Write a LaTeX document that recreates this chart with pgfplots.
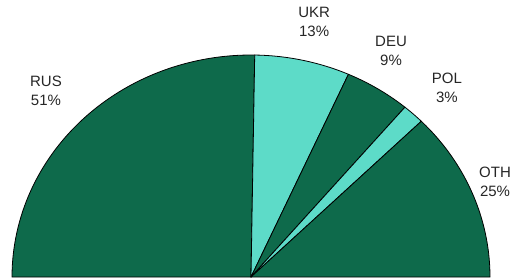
\documentclass[border=0pt]{standalone}
\usepackage{pgfplots}
\usepackage{pgfplotstable}
\pgfplotsset{compat=1.18}
\usepackage{fontspec}
\setmainfont{Liberation Sans}
\definecolor{darkg}{HTML}{0E6A4B}
\definecolor{lightg}{HTML}{5DDBC8}
\pgfplotstableread{
name share
RUS 51
UKR 13
DEU 9
POL 3
OTH 25
}\shares
\begin{document}%
\begin{tikzpicture}[
  mylab/.style={font=\fontsize{15}{19}\selectfont, align=center, text=black!85, inner sep=0pt}]
\pgfplotstablegetelem{0}{share}\of\shares \let\sA\pgfplotsretval
\pgfplotstablegetelem{1}{share}\of\shares \let\sB\pgfplotsretval
\pgfplotstablegetelem{2}{share}\of\shares \let\sC\pgfplotsretval
\pgfplotstablegetelem{3}{share}\of\shares \let\sD\pgfplotsretval
\pgfplotstablegetelem{4}{share}\of\shares \let\sE\pgfplotsretval
\pgfmathsetmacro\tot{\sA+\sB+\sC+\sD+\sE}
\pgfmathsetmacro\bA{180-180*\sA/\tot}
\pgfmathsetmacro\bB{\bA-180*\sB/\tot}
\pgfmathsetmacro\bC{\bB-180*\sC/\tot}
\pgfmathsetmacro\bD{\bC-180*\sD/\tot}
\begin{axis}[
  scale only axis, width=478pt, height=222pt,
  xmin=-1, xmax=1, ymin=0, ymax=1,
  hide axis, clip=false,
  every axis plot/.append style={draw=black, line width=0.8pt, line join=round},
]
\addplot[fill=darkg, domain=\bA:180, samples=120] ({cos(x)},{sin(x)}) -- (axis cs:0,0) -- cycle;
\addplot[fill=lightg, domain=\bB:\bA, samples=40] ({cos(x)},{sin(x)}) -- (axis cs:0,0) -- cycle;
\addplot[fill=darkg, domain=\bC:\bB, samples=30] ({cos(x)},{sin(x)}) -- (axis cs:0,0) -- cycle;
\addplot[fill=lightg, domain=\bD:\bC, samples=10] ({cos(x)},{sin(x)}) -- (axis cs:0,0) -- cycle;
\addplot[fill=darkg, domain=0:\bD, samples=60] ({cos(x)},{sin(x)}) -- (axis cs:0,0) -- cycle;
\node[mylab] at (axis cs:-0.858,0.838) {RUS\\51\%};
\node[mylab] at (axis cs:0.264,1.149) {UKR\\13\%};
\node[mylab] at (axis cs:0.586,1.018) {DEU\\9\%};
\node[mylab] at (axis cs:0.820,0.851) {POL\\3\%};
\node[mylab] at (axis cs:1.021,0.428) {OTH\\25\%};
\coordinate (c0) at (axis cs:-1,0);
\end{axis}
\pgfresetboundingbox
\path[use as bounding box] (c0) ++(-12pt,-1pt) rectangle ++(519pt,278pt);
\end{tikzpicture}%
\end{document}
